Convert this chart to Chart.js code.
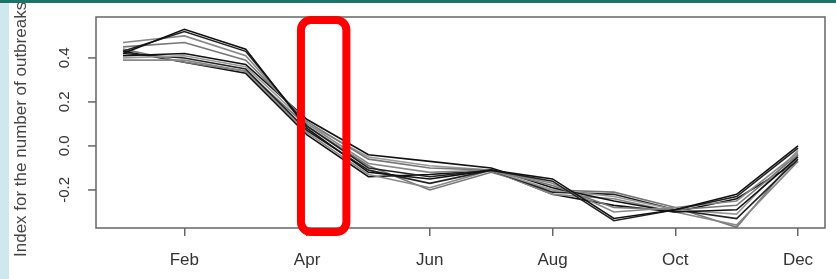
<!DOCTYPE html>
<html>
<head>
<meta charset="utf-8">
<script src="https://cdn.jsdelivr.net/npm/chart.js@4.4.1/dist/chart.umd.min.js"></script>
<style>
    html, body { margin: 0; padding: 0; background: #fff; }
    #wrap { width: 836px; height: 279px; position: relative; }
</style>
</head>
<body>
<div id="wrap"><canvas id="outbreakChart" width="836" height="279"></canvas></div>
<script>
// months as positions 0..11 (Jan..Dec)
const months = [0, 1, 2, 3, 4, 5, 6, 7, 8, 9, 10, 11];
const monthTicks = [1, 3, 5, 7, 9, 11];
const monthLabels = ['Feb', 'Apr', 'Jun', 'Aug', 'Oct', 'Dec'];
const yTicks = [-0.2, 0.0, 0.2, 0.4];
const yTickLabels = ['-0.2', '0.0', '0.2', '0.4'];

// one index curve per simulation run, Jan..Dec
const run1  = [0.42, 0.53, 0.44, 0.08, -0.12, -0.15, -0.11, -0.15, -0.33, -0.29, -0.22, 0.00];
const run2  = [0.43, 0.52, 0.43, 0.09, -0.10, -0.14, -0.11, -0.16, -0.34, -0.29, -0.23, -0.01];
const run3  = [0.47, 0.50, 0.41, 0.10, -0.08, -0.12, -0.11, -0.17, -0.30, -0.28, -0.25, -0.03];
const run4  = [0.45, 0.47, 0.39, 0.11, -0.06, -0.10, -0.11, -0.18, -0.28, -0.29, -0.27, -0.04];
const run5  = [0.41, 0.42, 0.37, 0.12, -0.04, -0.07, -0.10, -0.19, -0.25, -0.30, -0.29, -0.05];
const run6  = [0.40, 0.41, 0.36, 0.10, -0.05, -0.09, -0.11, -0.20, -0.23, -0.29, -0.31, -0.02];
const run7  = [0.42, 0.40, 0.35, 0.07, -0.11, -0.17, -0.11, -0.21, -0.22, -0.29, -0.33, -0.06];
const run8  = [0.39, 0.39, 0.34, 0.06, -0.13, -0.19, -0.11, -0.22, -0.24, -0.30, -0.36, -0.07];
const run9  = [0.44, 0.38, 0.34, 0.09, -0.09, -0.20, -0.12, -0.20, -0.21, -0.28, -0.37, -0.04];
const run10 = [0.43, 0.38, 0.33, 0.05, -0.14, -0.13, -0.11, -0.22, -0.27, -0.30, -0.24, -0.07];

const runs = [run1, run2, run3, run4, run5, run6, run7, run8, run9, run10];
const runColors = ['#111', '#222', '#888', '#777', '#111', '#999', '#222', '#888', '#777', '#111'];

// highlighted month window (in month units)
const highlightFrom = 2.9;
const highlightTo = 3.64;

document.addEventListener('DOMContentLoaded', function() {
    const ctx = document.getElementById('outbreakChart').getContext('2d');

    const frame = {
        id: 'frame',
        beforeDraw(chart) {
            const c = chart.ctx;
            c.save();
            c.fillStyle = '#ffffff';
            c.fillRect(0, 0, chart.width, chart.height);
            c.restore();
        },
        afterDraw(chart) {
            const c = chart.ctx;
            const area = chart.chartArea;
            const x = chart.scales.x;
            const y = chart.scales.y;
            c.save();

            // box around plot
            c.strokeStyle = '#666';
            c.lineWidth = 1.5;
            c.strokeRect(area.left, area.top, area.right - area.left, area.bottom - area.top);

            // y ticks + rotated labels
            c.fillStyle = '#333';
            c.font = '15px "Liberation Sans", Arial, sans-serif';
            c.textAlign = 'center';
            c.textBaseline = 'middle';
            yTicks.forEach((v, i) => {
                const py = y.getPixelForValue(v);
                c.beginPath();
                c.moveTo(area.left, py);
                c.lineTo(area.left - 8, py);
                c.stroke();
                c.save();
                c.translate(65, py);
                c.rotate(-Math.PI / 2);
                c.fillText(yTickLabels[i], 0, 0);
                c.restore();
            });

            // axis title, clipped at the top like the source
            c.save();
            c.fillStyle = '#444';
            c.font = '17px "Liberation Sans", Arial, sans-serif';
            c.translate(21, 257);
            c.rotate(-Math.PI / 2);
            c.textAlign = 'left';
            c.textBaseline = 'middle';
            c.fillText('Index for the number of outbreaks', 0, 0);
            c.restore();

            // red highlight box
            const x0 = x.getPixelForValue(highlightFrom);
            const x1 = x.getPixelForValue(highlightTo);
            c.strokeStyle = '#ff0000';
            c.lineWidth = 8;
            c.beginPath();
            c.roundRect(x0, area.top + 3, x1 - x0, area.bottom - area.top + 1, 10);
            c.stroke();

            // page decoration: teal top bar and light blue left strip
            c.fillStyle = '#1b7566';
            c.fillRect(0, 0, chart.width, 3);
            c.fillStyle = '#cfe7ee';
            c.fillRect(0, 3, 9, chart.height - 3);
            c.restore();
        }
    };

    new Chart(ctx, {
        type: 'line',
        data: {
            datasets: runs.map((r, i) => ({
                data: r.map((v, m) => ({ x: months[m], y: v })),
                borderColor: runColors[i],
                borderWidth: 1.6,
                pointRadius: 0,
                tension: 0,
                fill: false
            }))
        },
        options: {
            responsive: false,
            animation: false,
            layout: { padding: { top: 17, right: 11, left: 0, bottom: 0 } },
            plugins: {
                legend: { display: false },
                tooltip: { enabled: false }
            },
            scales: {
                x: {
                    type: 'linear',
                    min: -0.44,
                    max: 11.44,
                    afterBuildTicks: function(scale) {
                        scale.ticks = monthTicks.map(v => ({ value: v }));
                    },
                    afterFit: function(scale) { scale.height = 51; },
                    grid: {
                        drawOnChartArea: false,
                        drawTicks: true,
                        tickLength: 8,
                        color: '#666',
                        lineWidth: 1.5
                    },
                    border: { display: false },
                    ticks: {
                        color: '#333',
                        font: { size: 17, family: '"Liberation Sans", Arial, sans-serif' },
                        padding: 14,
                        maxRotation: 0,
                        autoSkip: false,
                        callback: function(value) {
                            const i = monthTicks.indexOf(value);
                            return i >= 0 ? monthLabels[i] : '';
                        }
                    }
                },
                y: {
                    min: -0.373,
                    max: 0.586,
                    afterFit: function(scale) { scale.width = 96; },
                    grid: { display: false },
                    border: { display: false },
                    ticks: { display: false }
                }
            }
        },
        plugins: [frame]
    });
});
</script>
</body>
</html>
